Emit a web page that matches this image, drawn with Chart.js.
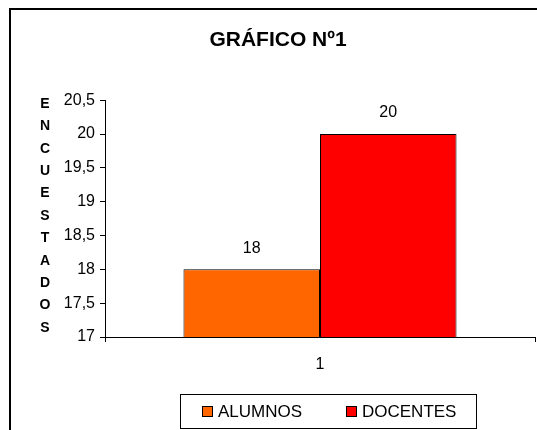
<!DOCTYPE html>
<html>
<head>
<meta charset="utf-8">
<script src="https://cdn.jsdelivr.net/npm/chart.js@4/dist/chart.umd.min.js"></script>
<style>
  html, body { margin: 0; padding: 0; background: #fff; }
  #wrap { width: 537px; height: 430px; position: relative; }
</style>
</head>
<body>
<div id="wrap"><canvas id="chart"></canvas></div>
<script>
// Chart data
const categories = ['1'];
const seriesNames = ['ALUMNOS', 'DOCENTES'];
const alumnos = [18];
const docentes = [20];
const seriesColors = ['#FF6600', '#FF0000'];
const yMin = 17;
const yMax = 20.5;
const yStep = 0.5;
const chartTitle = 'GRÁFICO Nº1';
const axisTitle = 'ENCUESTADOS';

const FONT = '"Liberation Sans", Arial, sans-serif';

// White background + outer frame
const framePlugin = {
    id: 'frame',
    beforeDraw(chart) {
        const c = chart.ctx;
        c.save();
        c.fillStyle = '#fff';
        c.fillRect(0, 0, chart.width, chart.height);
        c.strokeStyle = '#000';
        c.lineWidth = 2;
        c.beginPath();
        c.moveTo(10, chart.height + 5);
        c.lineTo(10, 9);
        c.lineTo(chart.width + 5, 9);
        c.stroke();
        c.restore();
    }
};

// Vertical stacked letters for the y axis title
const yTitlePlugin = {
    id: 'yTitle',
    afterDraw(chart) {
        const c = chart.ctx;
        c.save();
        c.fillStyle = '#000';
        c.font = 'bold 14px ' + FONT;
        c.textAlign = 'center';
        c.textBaseline = 'middle';
        const letters = axisTitle.split('');
        letters.forEach((ch, i) => {
            c.fillText(ch, 45, 104 + i * 22.4);
        });
        c.restore();
    }
};

// Value labels above the bars
const valueLabels = {
    id: 'valueLabels',
    afterDatasetsDraw(chart) {
        const c = chart.ctx;
        c.save();
        c.fillStyle = '#000';
        c.font = '16px ' + FONT;
        c.textAlign = 'center';
        c.textBaseline = 'middle';
        chart.data.datasets.forEach((ds, i) => {
            chart.getDatasetMeta(i).data.forEach((bar, j) => {
                c.fillText(String(ds.data[j]), bar.x, bar.y - 21);
            });
        });
        c.restore();
    }
};

// Boxed legend under the plot
const boxLegend = {
    id: 'boxLegend',
    afterDraw(chart) {
        const c = chart.ctx;
        c.save();
        c.strokeStyle = '#000';
        c.lineWidth = 1;
        c.strokeRect(180.5, 394.5, 296, 34);
        c.font = '17px ' + FONT;
        c.textBaseline = 'middle';
        const xs = [202, 346];
        chart.data.datasets.forEach((ds, i) => {
            c.fillStyle = ds.backgroundColor;
            c.fillRect(xs[i], 406, 11, 11);
            c.strokeRect(xs[i] + 0.5, 406.5, 10, 10);
            c.fillStyle = '#000';
            c.fillText(ds.label, xs[i] + 16, 412);
        });
        c.restore();
    }
};

new Chart(document.getElementById('chart'), {
    type: 'bar',
    data: {
        labels: categories,
        datasets: [
            { label: seriesNames[0], data: alumnos, backgroundColor: seriesColors[0], borderColor: '#000', borderWidth: 1 },
            { label: seriesNames[1], data: docentes, backgroundColor: seriesColors[1], borderColor: '#000', borderWidth: 1 }
        ]
    },
    options: {
        responsive: true,
        maintainAspectRatio: false,
        animation: false,
        layout: { padding: { top: 8, left: 21, right: 2, bottom: 53 } },
        datasets: { bar: { categoryPercentage: 0.635, barPercentage: 1 } },
        plugins: {
            legend: { display: false },
            tooltip: { enabled: false },
            title: {
                display: true,
                text: chartTitle,
                color: '#000',
                font: { family: FONT, size: 21, weight: 'bold', lineHeight: 1.2 },
                padding: { top: 20, bottom: 47 }
            }
        },
        scales: {
            x: {
                grid: { display: true, offset: true, drawOnChartArea: false, drawTicks: true, tickLength: 5, color: '#000' },
                border: { display: true, color: '#000', width: 1 },
                ticks: { color: '#000', font: { family: FONT, size: 16 }, padding: 13, maxRotation: 0 },
                afterFit(scale) { scale.height = 40; }
            },
            y: {
                min: yMin,
                max: yMax,
                grid: { display: true, drawOnChartArea: false, drawTicks: true, tickLength: 5, color: '#000' },
                border: { display: true, color: '#000', width: 1 },
                ticks: {
                    stepSize: yStep,
                    color: '#000',
                    padding: 5,
                    font: { family: FONT, size: 16 },
                    callback: (v) => String(v).replace('.', ',')
                },
                afterFit(scale) { scale.width = 84; }
            }
        }
    },
    plugins: [framePlugin, yTitlePlugin, valueLabels, boxLegend]
});
</script>
</body>
</html>
